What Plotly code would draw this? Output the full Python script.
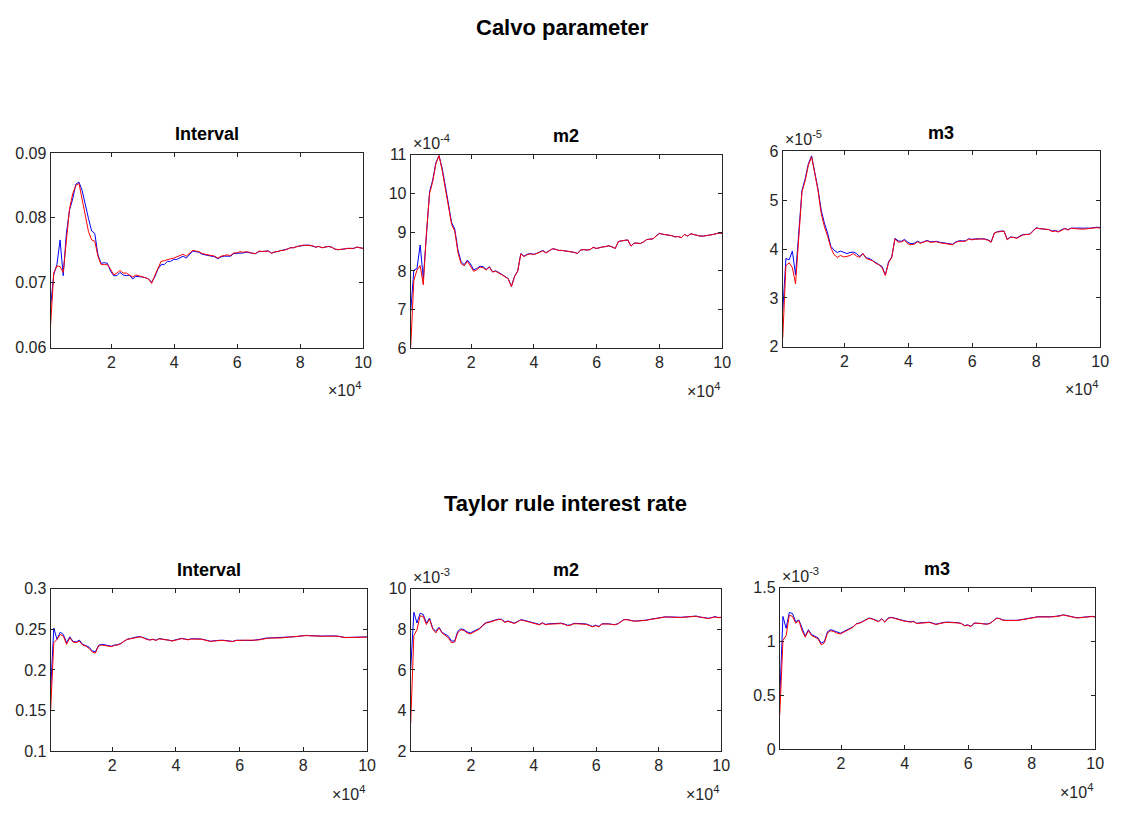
import plotly.graph_objects as go

# Simulation iteration grid (100 checkpoints up to 1e5 draws)
ITER = [700 + round(k * 99300 / 99) for k in range(100)]

# ---- Calvo parameter ----
CALVO_INT_BLUE = [
    0.0663, 0.0713, 0.0728, 0.0766, 0.0711, 0.0776, 0.0812, 0.0829, 0.0852, 0.0855,
    0.0842, 0.0819, 0.0799, 0.0780, 0.0776, 0.0743, 0.0730, 0.0731, 0.0730, 0.0718,
    0.0711, 0.0711, 0.0716, 0.0712, 0.0711, 0.0712, 0.0706, 0.0710, 0.0710, 0.0709,
    0.0708, 0.0706, 0.0701, 0.0709, 0.0721, 0.0728, 0.0728, 0.0733, 0.0733, 0.0736,
    0.0736, 0.0739, 0.0741, 0.0738, 0.0744, 0.0749, 0.0748, 0.0747, 0.0744, 0.0743,
    0.0742, 0.0741, 0.0740, 0.0737, 0.0740, 0.0741, 0.0741, 0.0741, 0.0745, 0.0745,
    0.0746, 0.0746, 0.0747, 0.0746, 0.0745, 0.0745, 0.0748, 0.0748, 0.0748, 0.0749,
    0.0746, 0.0747, 0.0748, 0.0750, 0.0750, 0.0752, 0.0754, 0.0754, 0.0756, 0.0757,
    0.0758, 0.0758, 0.0758, 0.0757, 0.0755, 0.0756, 0.0754, 0.0755, 0.0756, 0.0755,
    0.0752, 0.0751, 0.0751, 0.0752, 0.0753, 0.0753, 0.0753, 0.0755, 0.0754, 0.0753,
]
CALVO_INT_RED = [
    0.0635, 0.0715, 0.0726, 0.0725, 0.0716, 0.0761, 0.0814, 0.0837, 0.0850, 0.0853,
    0.0827, 0.0799, 0.0779, 0.0766, 0.0764, 0.0741, 0.0728, 0.0728, 0.0728, 0.0721,
    0.0712, 0.0715, 0.0719, 0.0715, 0.0715, 0.0712, 0.0709, 0.0712, 0.0711, 0.0710,
    0.0708, 0.0706, 0.0699, 0.0711, 0.0723, 0.0733, 0.0734, 0.0736, 0.0737, 0.0738,
    0.0740, 0.0741, 0.0744, 0.0741, 0.0745, 0.0750, 0.0749, 0.0748, 0.0745, 0.0744,
    0.0743, 0.0742, 0.0741, 0.0738, 0.0741, 0.0742, 0.0743, 0.0742, 0.0746, 0.0746,
    0.0748, 0.0747, 0.0748, 0.0747, 0.0745, 0.0745, 0.0749, 0.0748, 0.0749, 0.0749,
    0.0745, 0.0748, 0.0748, 0.0750, 0.0750, 0.0752, 0.0754, 0.0754, 0.0756, 0.0757,
    0.0758, 0.0758, 0.0758, 0.0757, 0.0755, 0.0756, 0.0754, 0.0755, 0.0756, 0.0755,
    0.0752, 0.0751, 0.0751, 0.0752, 0.0753, 0.0753, 0.0753, 0.0755, 0.0754, 0.0753,
]
# m2 in units of 1e-4
CALVO_M2_BLUE = [
    6.95, 8.02, 8.06, 8.67, 7.80, 9.05, 10.05, 10.35, 10.80, 10.98,
    10.65, 10.20, 9.70, 9.25, 9.08, 8.55, 8.24, 8.16, 8.28, 8.18,
    8.03, 8.06, 8.12, 8.11, 8.04, 8.11, 7.98, 8.00, 7.96, 7.90,
    7.86, 7.80, 7.60, 7.86, 8.00, 8.45, 8.38, 8.43, 8.45, 8.43,
    8.45, 8.49, 8.53, 8.47, 8.52, 8.57, 8.56, 8.53, 8.53, 8.52,
    8.50, 8.49, 8.48, 8.45, 8.54, 8.55, 8.54, 8.55, 8.61, 8.58,
    8.61, 8.62, 8.63, 8.65, 8.62, 8.58, 8.76, 8.78, 8.79, 8.80,
    8.64, 8.72, 8.72, 8.71, 8.75, 8.81, 8.82, 8.83, 8.90, 8.97,
    8.95, 8.94, 8.93, 8.91, 8.88, 8.89, 8.86, 8.94, 8.90, 8.96,
    8.94, 8.92, 8.90, 8.90, 8.91, 8.93, 8.94, 8.96, 8.98, 8.97,
]
CALVO_M2_RED = [
    6.03, 7.76, 8.02, 8.14, 7.64, 8.99, 10.00, 10.31, 10.77, 10.98,
    10.60, 10.14, 9.63, 9.20, 9.03, 8.48, 8.19, 8.13, 8.25, 8.13,
    7.99, 8.03, 8.10, 8.08, 8.02, 8.10, 7.97, 7.99, 7.95, 7.89,
    7.85, 7.79, 7.59, 7.85, 7.99, 8.44, 8.37, 8.42, 8.44, 8.42,
    8.44, 8.48, 8.52, 8.46, 8.52, 8.57, 8.56, 8.53, 8.53, 8.52,
    8.50, 8.49, 8.48, 8.45, 8.54, 8.55, 8.54, 8.55, 8.61, 8.58,
    8.61, 8.62, 8.63, 8.65, 8.62, 8.58, 8.76, 8.78, 8.79, 8.80,
    8.64, 8.72, 8.72, 8.71, 8.75, 8.81, 8.82, 8.83, 8.90, 8.97,
    8.95, 8.94, 8.93, 8.91, 8.88, 8.89, 8.86, 8.94, 8.90, 8.96,
    8.94, 8.92, 8.90, 8.90, 8.91, 8.93, 8.94, 8.96, 8.98, 8.97,
]
# m3 in units of 1e-5
CALVO_M3_BLUE = [
    2.72, 3.81, 3.78, 3.96, 3.47, 4.26, 5.20, 5.44, 5.75, 5.91,
    5.60, 5.23, 4.80, 4.53, 4.33, 4.06, 3.98, 3.93, 3.96, 3.94,
    3.91, 3.93, 3.94, 3.91, 3.85, 3.91, 3.82, 3.81, 3.77, 3.72,
    3.68, 3.64, 3.47, 3.74, 3.84, 4.22, 4.17, 4.16, 4.20, 4.14,
    4.11, 4.12, 4.16, 4.13, 4.15, 4.18, 4.15, 4.16, 4.16, 4.14,
    4.13, 4.12, 4.11, 4.10, 4.15, 4.17, 4.17, 4.17, 4.21, 4.20,
    4.21, 4.21, 4.22, 4.21, 4.19, 4.15, 4.33, 4.36, 4.37, 4.37,
    4.20, 4.25, 4.24, 4.23, 4.27, 4.30, 4.30, 4.31, 4.37, 4.44,
    4.42, 4.41, 4.41, 4.40, 4.37, 4.38, 4.36, 4.40, 4.42, 4.40,
    4.43, 4.43, 4.42, 4.42, 4.42, 4.42, 4.43, 4.44, 4.45, 4.44,
]
CALVO_M3_RED = [
    2.18, 3.66, 3.72, 3.62, 3.29, 4.19, 5.17, 5.40, 5.72, 5.89,
    5.57, 5.20, 4.73, 4.46, 4.26, 4.03, 3.89, 3.83, 3.87, 3.84,
    3.85, 3.87, 3.91, 3.86, 3.83, 3.91, 3.81, 3.79, 3.76, 3.71,
    3.68, 3.62, 3.46, 3.72, 3.83, 4.21, 4.14, 4.15, 4.18, 4.11,
    4.09, 4.10, 4.15, 4.12, 4.14, 4.17, 4.14, 4.15, 4.15, 4.13,
    4.12, 4.11, 4.10, 4.09, 4.14, 4.16, 4.16, 4.16, 4.21, 4.19,
    4.20, 4.21, 4.21, 4.20, 4.18, 4.14, 4.33, 4.35, 4.36, 4.37,
    4.19, 4.24, 4.24, 4.22, 4.26, 4.29, 4.30, 4.30, 4.36, 4.43,
    4.42, 4.41, 4.41, 4.40, 4.36, 4.37, 4.35, 4.39, 4.42, 4.39,
    4.43, 4.42, 4.41, 4.41, 4.41, 4.42, 4.42, 4.43, 4.44, 4.43,
]

# ---- Taylor rule interest rate ----
TAYLOR_INT_BLUE = [
    0.1730, 0.2516, 0.2375, 0.2464, 0.2435, 0.2335, 0.2407, 0.2351, 0.2343, 0.2367,
    0.2315, 0.2302, 0.2282, 0.2234, 0.2222, 0.2302, 0.2315, 0.2308, 0.2300, 0.2292,
    0.2306, 0.2310, 0.2327, 0.2358, 0.2378, 0.2386, 0.2398, 0.2406, 0.2410, 0.2398,
    0.2378, 0.2370, 0.2378, 0.2366, 0.2386, 0.2378, 0.2378, 0.2370, 0.2358, 0.2370,
    0.2378, 0.2388, 0.2381, 0.2373, 0.2383, 0.2385, 0.2388, 0.2381, 0.2373, 0.2363,
    0.2353, 0.2358, 0.2365, 0.2365, 0.2365, 0.2363, 0.2353, 0.2351, 0.2365, 0.2363,
    0.2367, 0.2368, 0.2366, 0.2362, 0.2368, 0.2370, 0.2380, 0.2390, 0.2392, 0.2394,
    0.2392, 0.2392, 0.2395, 0.2400, 0.2404, 0.2405, 0.2407, 0.2410, 0.2417, 0.2424,
    0.2425, 0.2422, 0.2419, 0.2416, 0.2416, 0.2416, 0.2418, 0.2420, 0.2420, 0.2417,
    0.2415, 0.2404, 0.2400, 0.2400, 0.2400, 0.2402, 0.2405, 0.2409, 0.2409, 0.2406,
]
TAYLOR_INT_RED = [
    0.1490, 0.2335, 0.2375, 0.2435, 0.2415, 0.2315, 0.2395, 0.2343, 0.2335, 0.2355,
    0.2306, 0.2294, 0.2266, 0.2222, 0.2206, 0.2294, 0.2306, 0.2302, 0.2294, 0.2286,
    0.2302, 0.2306, 0.2323, 0.2355, 0.2375, 0.2383, 0.2395, 0.2403, 0.2407, 0.2395,
    0.2375, 0.2367, 0.2375, 0.2363, 0.2383, 0.2375, 0.2375, 0.2367, 0.2355, 0.2367,
    0.2375, 0.2385, 0.2378, 0.2370, 0.2380, 0.2382, 0.2385, 0.2378, 0.2370, 0.2360,
    0.2350, 0.2355, 0.2362, 0.2362, 0.2362, 0.2360, 0.2350, 0.2348, 0.2362, 0.2360,
    0.2365, 0.2366, 0.2364, 0.2360, 0.2366, 0.2368, 0.2378, 0.2388, 0.2390, 0.2392,
    0.2390, 0.2390, 0.2393, 0.2398, 0.2402, 0.2403, 0.2405, 0.2408, 0.2415, 0.2422,
    0.2423, 0.2420, 0.2417, 0.2414, 0.2414, 0.2414, 0.2416, 0.2418, 0.2418, 0.2415,
    0.2413, 0.2402, 0.2398, 0.2398, 0.2398, 0.2400, 0.2403, 0.2407, 0.2407, 0.2404,
]
# m2 in units of 1e-3
TAYLOR_M2_BLUE = [
    6.05, 8.84, 8.31, 8.79, 8.73, 8.31, 8.55, 8.06, 7.90, 8.10,
    7.85, 7.76, 7.66, 7.42, 7.42, 7.90, 8.02, 7.98, 7.87, 7.82,
    7.89, 7.97, 8.05, 8.21, 8.33, 8.36, 8.42, 8.46, 8.50, 8.49,
    8.36, 8.41, 8.36, 8.30, 8.38, 8.47, 8.45, 8.41, 8.38, 8.35,
    8.29, 8.24, 8.32, 8.24, 8.27, 8.28, 8.28, 8.30, 8.30, 8.26,
    8.20, 8.22, 8.29, 8.29, 8.29, 8.29, 8.26, 8.20, 8.14, 8.20,
    8.14, 8.27, 8.28, 8.27, 8.25, 8.23, 8.27, 8.36, 8.48, 8.48,
    8.44, 8.41, 8.41, 8.42, 8.42, 8.45, 8.48, 8.51, 8.53, 8.57,
    8.59, 8.61, 8.61, 8.60, 8.58, 8.57, 8.59, 8.60, 8.61, 8.63,
    8.63, 8.65, 8.61, 8.58, 8.57, 8.54, 8.58, 8.62, 8.58, 8.59,
]
TAYLOR_M2_RED = [
    3.39, 7.69, 7.98, 8.66, 8.63, 8.23, 8.50, 8.02, 7.82, 8.06,
    7.82, 7.69, 7.58, 7.34, 7.37, 7.82, 7.98, 7.94, 7.82, 7.77,
    7.85, 7.94, 8.02, 8.18, 8.31, 8.34, 8.40, 8.44, 8.48, 8.47,
    8.34, 8.39, 8.34, 8.28, 8.36, 8.45, 8.43, 8.39, 8.36, 8.33,
    8.27, 8.22, 8.30, 8.22, 8.25, 8.26, 8.26, 8.28, 8.28, 8.24,
    8.18, 8.20, 8.27, 8.27, 8.27, 8.27, 8.24, 8.18, 8.12, 8.18,
    8.12, 8.26, 8.27, 8.26, 8.24, 8.22, 8.26, 8.35, 8.47, 8.47,
    8.43, 8.40, 8.40, 8.41, 8.41, 8.44, 8.47, 8.50, 8.52, 8.56,
    8.58, 8.60, 8.60, 8.59, 8.57, 8.56, 8.58, 8.59, 8.60, 8.62,
    8.62, 8.64, 8.60, 8.57, 8.56, 8.53, 8.57, 8.61, 8.57, 8.58,
]
# m3 in units of 1e-3
TAYLOR_M3_BLUE = [
    0.470, 1.233, 1.123, 1.270, 1.260, 1.184, 1.200, 1.117, 1.050, 1.110,
    1.064, 1.050, 1.034, 0.985, 1.000, 1.092, 1.110, 1.100, 1.085, 1.077,
    1.092, 1.105, 1.121, 1.136, 1.166, 1.172, 1.187, 1.203, 1.218, 1.212,
    1.196, 1.187, 1.212, 1.183, 1.218, 1.225, 1.218, 1.208, 1.198, 1.193,
    1.188, 1.183, 1.188, 1.169, 1.173, 1.175, 1.177, 1.180, 1.171, 1.161,
    1.168, 1.175, 1.180, 1.180, 1.180, 1.180, 1.175, 1.168, 1.148, 1.155,
    1.141, 1.172, 1.172, 1.170, 1.165, 1.162, 1.170, 1.192, 1.217, 1.214,
    1.200, 1.197, 1.195, 1.195, 1.197, 1.199, 1.205, 1.208, 1.212, 1.224,
    1.228, 1.230, 1.230, 1.228, 1.226, 1.230, 1.232, 1.234, 1.240, 1.248,
    1.240, 1.234, 1.227, 1.222, 1.222, 1.225, 1.230, 1.234, 1.234, 1.229,
]
TAYLOR_M3_RED = [
    0.319, 1.010, 1.055, 1.245, 1.233, 1.170, 1.193, 1.100, 1.040, 1.100,
    1.055, 1.040, 1.025, 0.970, 0.988, 1.080, 1.100, 1.092, 1.077, 1.070,
    1.086, 1.100, 1.117, 1.132, 1.163, 1.169, 1.184, 1.200, 1.215, 1.209,
    1.193, 1.184, 1.209, 1.180, 1.215, 1.222, 1.215, 1.205, 1.195, 1.190,
    1.185, 1.180, 1.185, 1.166, 1.170, 1.172, 1.174, 1.177, 1.168, 1.158,
    1.165, 1.172, 1.177, 1.177, 1.177, 1.177, 1.172, 1.165, 1.145, 1.152,
    1.138, 1.170, 1.170, 1.168, 1.163, 1.160, 1.168, 1.190, 1.215, 1.212,
    1.198, 1.195, 1.193, 1.193, 1.195, 1.197, 1.203, 1.206, 1.210, 1.222,
    1.226, 1.228, 1.228, 1.226, 1.224, 1.228, 1.230, 1.232, 1.238, 1.246,
    1.238, 1.232, 1.225, 1.220, 1.220, 1.223, 1.228, 1.232, 1.232, 1.227,
]

# Tick labels
X_TICKS = [20000, 40000, 60000, 80000, 100000]
X_TICK_TEXT = ["2", "4", "6", "8", "10"]
Y_TICKS = {
    "calvo_int": ([0.06, 0.07, 0.08, 0.09], ["0.06", "0.07", "0.08", "0.09"]),
    "calvo_m2": ([6, 7, 8, 9, 10, 11], ["6", "7", "8", "9", "10", "11"]),
    "calvo_m3": ([2, 3, 4, 5, 6], ["2", "3", "4", "5", "6"]),
    "taylor_int": ([0.1, 0.15, 0.2, 0.25, 0.3], ["0.1", "0.15", "0.2", "0.25", "0.3"]),
    "taylor_m2": ([2, 4, 6, 8, 10], ["2", "4", "6", "8", "10"]),
    "taylor_m3": ([0, 0.5, 1, 1.5], ["0", "0.5", "1", "1.5"]),
}
TITLES = ["Interval", "m2", "m3", "Interval", "m2", "m3"]
Y_EXPONENTS = [None, "-4", "-5", None, "-3", "-3"]
SUPTITLES = ["Calvo parameter", "Taylor rule interest rate"]

W, H = 1132, 816
FONT = "Liberation Sans, Arial, Helvetica, sans-serif"
AX_COLOR = "#262626"
TICK_SIZE = 16

# panel boxes in pixels: (left, right, top, bottom)
BOXES = [
    (51, 366, 148, 347),
    (414, 728, 150, 347.5),
    (789, 1109, 146.5, 346),
    (51, 370, 593, 759),
    (414, 727, 593, 759),
    (786, 1104, 592, 757),
]

panels = [
    ("calvo_int", CALVO_INT_BLUE, CALVO_INT_RED),
    ("calvo_m2", CALVO_M2_BLUE, CALVO_M2_RED),
    ("calvo_m3", CALVO_M3_BLUE, CALVO_M3_RED),
    ("taylor_int", TAYLOR_INT_BLUE, TAYLOR_INT_RED),
    ("taylor_m2", TAYLOR_M2_BLUE, TAYLOR_M2_RED),
    ("taylor_m3", TAYLOR_M3_BLUE, TAYLOR_M3_RED),
]

fig = go.Figure()
layout = dict(
    width=W, height=H,
    margin=dict(l=0, r=0, t=0, b=0),
    paper_bgcolor="white", plot_bgcolor="white",
    showlegend=False,
    font=dict(family=FONT, color=AX_COLOR, size=TICK_SIZE),
)
annotations = []

for i, (key, blue, red) in enumerate(panels):
    n = i + 1
    xa = "x" if n == 1 else f"x{n}"
    ya = "y" if n == 1 else f"y{n}"
    fig.add_trace(go.Scatter(x=ITER, y=blue, mode="lines", xaxis=xa, yaxis=ya,
                             line=dict(color="#0000FF", width=1)))
    fig.add_trace(go.Scatter(x=ITER, y=red, mode="lines", xaxis=xa, yaxis=ya,
                             line=dict(color="#FF0000", width=1)))
    left, right, top, bottom = BOXES[i]
    yvals, ytext = Y_TICKS[key]
    common = dict(showline=True, mirror="ticks", linecolor=AX_COLOR, linewidth=1,
                  ticks="inside", ticklen=4, tickwidth=1, tickcolor=AX_COLOR,
                  showgrid=False, zeroline=False,
                  tickfont=dict(family=FONT, size=TICK_SIZE, color=AX_COLOR))
    layout[f"xaxis{'' if n == 1 else n}"] = dict(
        domain=[left / W, right / W], anchor=ya,
        range=[ITER[0], ITER[-1]], tickvals=X_TICKS, ticktext=X_TICK_TEXT, **common)
    layout[f"yaxis{'' if n == 1 else n}"] = dict(
        domain=[1 - bottom / H, 1 - top / H], anchor=xa,
        range=[yvals[0], yvals[-1]], tickvals=yvals, ticktext=ytext, **common)

    # panel title
    annotations.append(dict(text=f"<b>{TITLES[i]}</b>", x=(left + right) / 2 / W,
                            y=1 - (top - 7) / H, xref="paper", yref="paper",
                            xanchor="center", yanchor="bottom", showarrow=False,
                            font=dict(family=FONT, size=18, color="black")))
    # x exponent
    annotations.append(dict(text="×10<sup>4</sup>", x=right / W, y=1 - (bottom + 30) / H,
                            xref="paper", yref="paper", xanchor="right", yanchor="top",
                            showarrow=False, font=dict(family=FONT, size=TICK_SIZE, color=AX_COLOR)))
    # y exponent
    if Y_EXPONENTS[i]:
        annotations.append(dict(text=f"×10<sup>{Y_EXPONENTS[i]}</sup>", x=left / W,
                                y=1 - (top - 1) / H, xref="paper", yref="paper",
                                xanchor="left", yanchor="bottom", showarrow=False,
                                font=dict(family=FONT, size=TICK_SIZE, color=AX_COLOR)))

# figure-level titles for each row (centre x, centre y in pixels)
for text, (xc, yc) in zip(SUPTITLES, [(567, 20), (570, 506)]):
    annotations.append(dict(text=f"<b>{text}</b>", x=xc / W, y=1 - yc / H,
                            xref="paper", yref="paper", xanchor="center", yanchor="middle",
                            showarrow=False, font=dict(family=FONT, size=22, color="black")))

layout["annotations"] = annotations
fig.update_layout(**layout)
fig.write_html("out.html")
